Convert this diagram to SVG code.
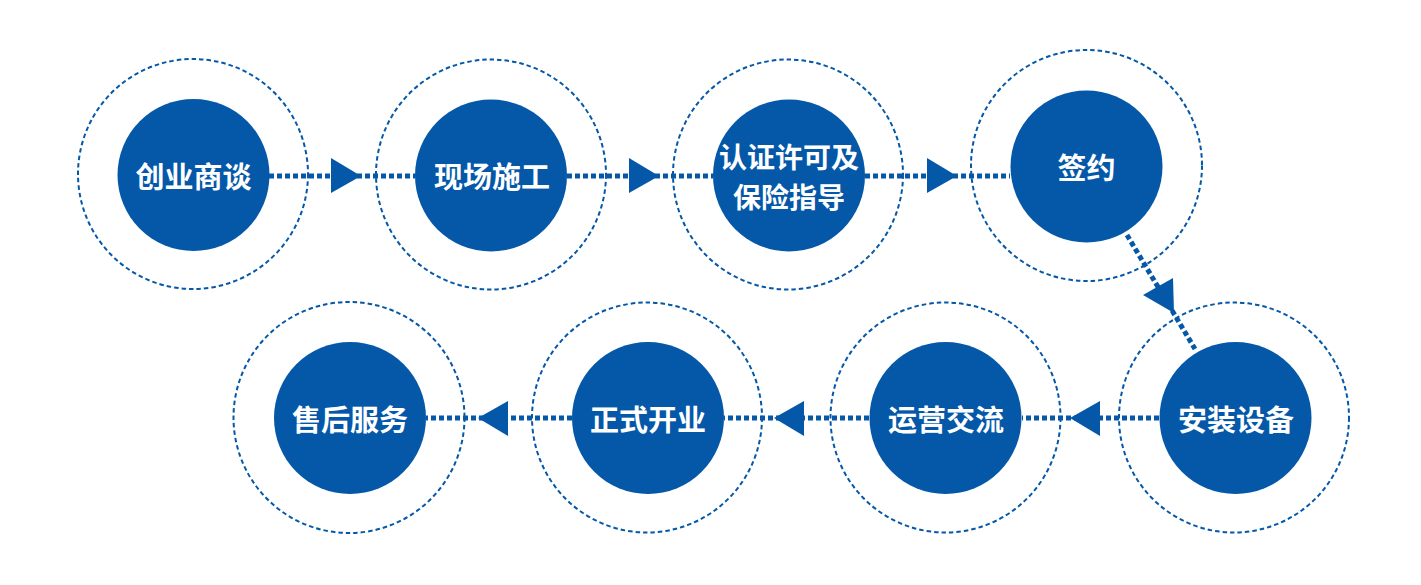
<svg xmlns="http://www.w3.org/2000/svg" width="1421" height="585" viewBox="0 0 1421 585">
<style>
.outer{fill:none;stroke:#0558a8;stroke-width:2;stroke-dasharray:4.5 3}
.inner{fill:#0558a8}
.lbl{fill:#ffffff;font-family:"Noto Sans CJK SC","Noto Sans",sans-serif;font-weight:bold;font-size:29px;text-anchor:middle}
.sm{font-size:28px}
.link{fill:none;stroke:#0558a8;stroke-width:5;stroke-dasharray:5 3}
.head{fill:#0558a8}
</style>
<rect width="1421" height="585" fill="#ffffff"/>
<g id="connectors">
<line class="link" x1="269" y1="176" x2="415" y2="176"/>
<polygon class="head" points="331,158 331,193 361,176"/>
<line class="link" x1="567" y1="176" x2="713" y2="176"/>
<polygon class="head" points="629,158 629,193 659,176"/>
<line class="link" x1="865" y1="176" x2="1010" y2="176"/>
<polygon class="head" points="927,158 927,193 957,176"/>
<line class="link" x1="1127" y1="235" x2="1195" y2="349"/>
<polygon class="head" points="1143,295 1173,278 1174,313"/>
<line class="link" x1="1159" y1="418" x2="1022" y2="418"/>
<polygon class="head" points="1100,401 1100,436 1070,418"/>
<line class="link" x1="869" y1="418" x2="724" y2="418"/>
<polygon class="head" points="804,401 804,436 774,418"/>
<line class="link" x1="572" y1="418" x2="426" y2="418"/>
<polygon class="head" points="508,401 508,436 478,418"/>
</g>
<g id="n1">
<circle class="outer" cx="193" cy="174" r="115"/>
<circle class="inner" cx="193.5" cy="175" r="76"/>
<text class="lbl" x="193.5" y="188">创业商谈</text>
</g>
<g id="n2">
<circle class="outer" cx="491" cy="174.5" r="115"/>
<circle class="inner" cx="491" cy="175.5" r="76"/>
<text class="lbl" x="492" y="188">现场施工</text>
</g>
<g id="n3">
<circle class="outer" cx="788" cy="174.5" r="115"/>
<circle class="inner" cx="789" cy="175.5" r="76"/>
<text class="lbl sm" x="789" y="168">认证许可及</text>
<text class="lbl sm" x="789" y="208">保险指导</text>
</g>
<g id="n4">
<circle class="outer" cx="1086.5" cy="165.5" r="115.5"/>
<circle class="inner" cx="1086.5" cy="166.5" r="76"/>
<text class="lbl" x="1086.5" y="179">签约</text>
</g>
<g id="n5">
<circle class="outer" cx="1234" cy="417.5" r="115"/>
<circle class="inner" cx="1235.5" cy="418" r="76"/>
<text class="lbl" x="1236" y="431">安装设备</text>
</g>
<g id="n6">
<circle class="outer" cx="945.5" cy="417.5" r="115"/>
<circle class="inner" cx="945.5" cy="418" r="76"/>
<text class="lbl" x="946" y="431">运营交流</text>
</g>
<g id="n7">
<circle class="outer" cx="647" cy="417.5" r="115"/>
<circle class="inner" cx="648" cy="418" r="76"/>
<text class="lbl" x="648" y="431">正式开业</text>
</g>
<g id="n8">
<circle class="outer" cx="349" cy="417.5" r="115.5"/>
<circle class="inner" cx="350" cy="418" r="76"/>
<text class="lbl" x="350" y="431">售后服务</text>
</g>
</svg>
